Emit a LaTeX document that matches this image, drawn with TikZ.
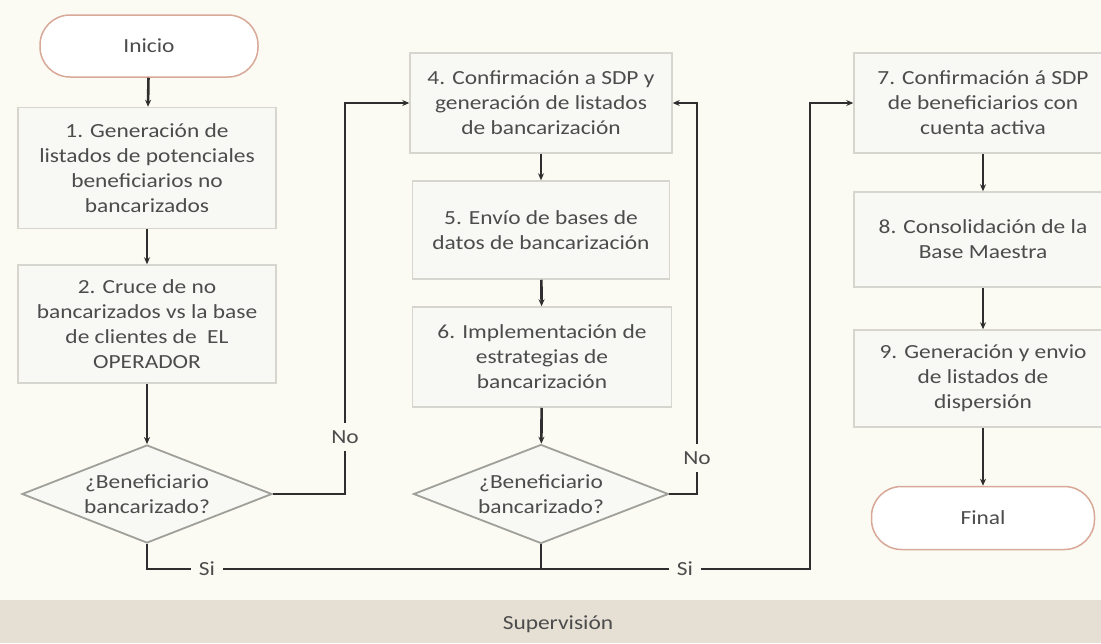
\documentclass[tikz,border=0pt]{standalone}
\usepackage{fontspec}
\setmainfont{Carlito}[FakeStretch=1.17]
\usetikzlibrary{shapes.geometric,arrows.meta}
\definecolor{bg}{HTML}{FBFBF3}
\definecolor{boxfill}{HTML}{F8F8F4}
\definecolor{boxline}{HTML}{D6D6CE}
\definecolor{txt}{HTML}{4C4C4C}
\definecolor{conn}{HTML}{2E2E2E}
\definecolor{termline}{HTML}{D8A898}
\definecolor{band}{HTML}{E5DFD4}
\definecolor{dline}{HTML}{A0A09A}
\tikzset{
  every node/.style={text=txt, font=\fontsize{20}{25}\selectfont},
  stepbox/.style={draw=boxline, line width=1.5pt, fill=boxfill, align=center, inner sep=0pt},
  term/.style={draw=termline, line width=1.5pt, fill=white, rounded corners=30pt, inner sep=0pt, minimum width=218pt, minimum height=62pt},
  decis/.style={diamond, draw=dline, line width=1.8pt, fill=boxfill, inner sep=0pt},
  arr/.style={draw=conn, line width=2.6pt, -{Stealth[length=7pt,width=6pt]}},
  ln/.style={draw=conn, line width=2.6pt},
  lbl/.style={fill=bg, inner xsep=8pt, inner ysep=8pt}
}
\begin{document}
\begin{tikzpicture}[x=1pt,y=-1pt]
\useasboundingbox (0,0) rectangle (1101,643);
\fill[bg] (0,0) rectangle (1101,643);
\fill[band] (0,600) rectangle (1101,643);
\node (sup) at (558,624) {Supervisión};

% left column
\node[term] (ini) at (149,46) {Inicio};
\node[stepbox, minimum width=258pt, minimum height=121pt] (b1) at (147,168) {1. Generación de\\listados de potenciales\\beneficiarios no\\bancarizados};
\node[stepbox, minimum width=258pt, minimum height=118pt] (b2) at (147,324) {2. Cruce de no\\bancarizados vs la base\\de clientes de\ \ EL\\OPERADOR};
\node[decis, minimum width=250pt, minimum height=98pt, label={[align=center]center:¿Beneficiario\\bancarizado?}] (d1) at (147,494) {};

% middle column
\node[stepbox, minimum width=262pt, minimum height=100pt] (b4) at (541,103) {4. Confirmación a SDP y\\generación de listados\\de bancarización};
\node[stepbox, minimum width=257pt, minimum height=98pt] (b5) at (541,230) {5. Envío de bases de\\datos de bancarización};
\node[stepbox, minimum width=259pt, minimum height=100pt] (b6) at (542,357) {6. Implementación de\\estrategias de\\bancarización};
\node[decis, minimum width=255pt, minimum height=99pt, label={[align=center]center:¿Beneficiario\\bancarizado?}] (d2) at (541,494) {};

% right column
\node[stepbox, minimum width=258pt, minimum height=100pt] (b7) at (983,103) {7. Confirmación á SDP\\de beneficiarios con\\cuenta activa};
\node[stepbox, minimum width=258pt, minimum height=95pt] (b8) at (983,239.5) {8. Consolidación de la\\Base Maestra};
\node[stepbox, minimum width=258pt, minimum height=97pt] (b9) at (983,378.5) {9. Generación y envio\\de listados de\\dispersión};
\node[term, minimum width=223pt, minimum height=63pt] (fin) at (983,518) {Final};

% helper coordinates
\coordinate (jL) at (345,300);
\coordinate (jR) at (697,300);
\coordinate (jS) at (810,569);

% connectors
\draw[arr] (ini) -- (b1);
\draw[arr] (b1) -- (b2);
\draw[arr] (b2) -- (d1);
\draw[arr] (b4) -- (b5);
\draw[arr] (b5) -- (b6);
\draw[arr] (b6) -- (d2);
\draw[arr] (b7) -- (b8);
\draw[arr] (b8) -- (b9);
\draw[arr] (b9) -- (fin);

\draw[arr] (d1.east) -| (jL) |- (b4.west);
\draw[arr] (d2.east) -| (jR) |- (b4.east);
\draw[arr] (d1.south) |- (jS) |- (b7.west);
\draw[ln] (d2.south) -- (d2.south |- jS);

\node[lbl] (noL) at (345,437) {No};
\node[lbl] (noR) at (697,458) {No};
\node[lbl] (siL) at (207,569) {Si};
\node[lbl] (siR) at (685,569) {Si};
\end{tikzpicture}
\end{document}
